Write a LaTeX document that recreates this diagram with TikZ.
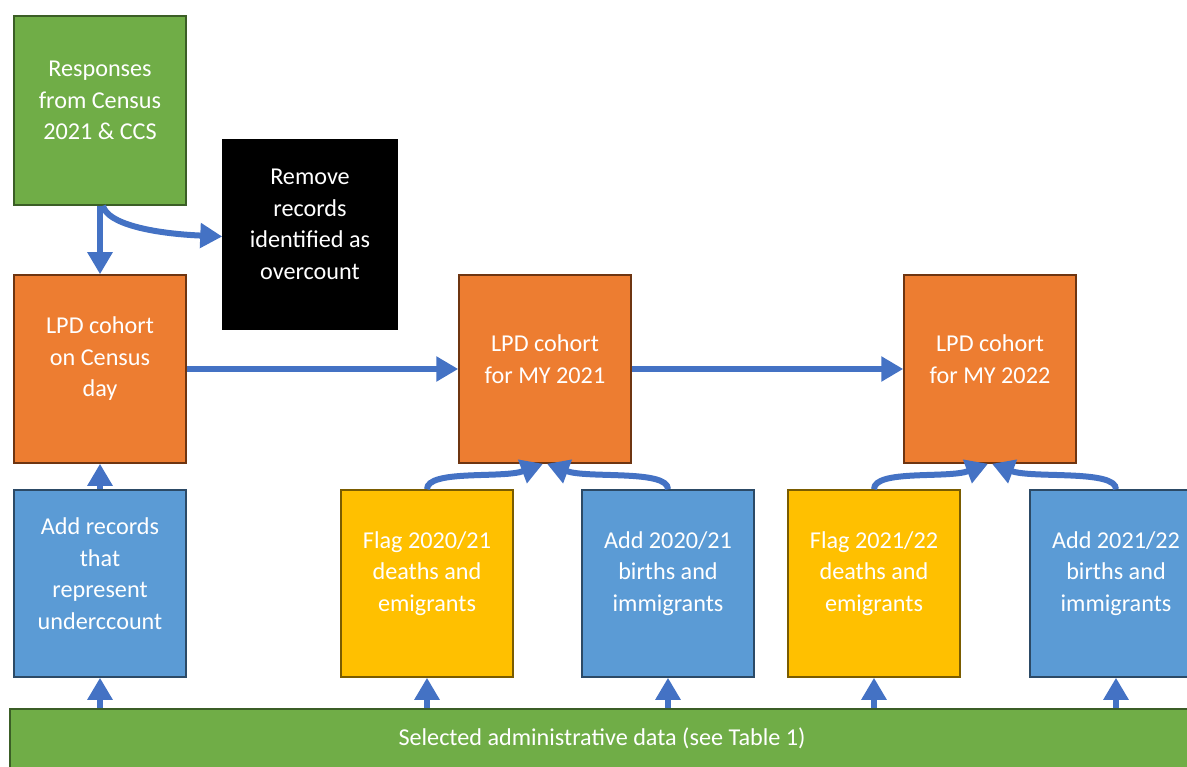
\documentclass[tikz,border=0pt]{standalone}
\usepackage{fontspec}
\setmainfont{Carlito}
\usetikzlibrary{arrows.meta}
\definecolor{gfill}{HTML}{70AD47}
\definecolor{gline}{HTML}{3B5E26}
\definecolor{ofill}{HTML}{ED7D31}
\definecolor{oline}{HTML}{6E3511}
\definecolor{bfill}{HTML}{5B9BD5}
\definecolor{bline}{HTML}{2C4A66}
\definecolor{yfill}{HTML}{FFC000}
\definecolor{yline}{HTML}{7A5C00}
\definecolor{arrc}{HTML}{4472C4}
\tikzset{
  box/.style={rectangle, inner sep=0pt, line width=1.5pt, minimum width=172pt, minimum height=188pt},
  gbox/.style={box, fill=gfill, draw=gline},
  obox/.style={box, fill=ofill, draw=oline},
  bbox/.style={box, fill=bfill, draw=bline},
  ybox/.style={box, fill=yfill, draw=yline},
  kbox/.style={box, fill=black, draw=black, minimum width=174pt, minimum height=189pt},
  txt/.style={text=white, align=center, inner sep=0pt, font=\fontsize{24.2}{31.5}\selectfont},
  arr/.style={draw=arrc, line width=6pt, -{Triangle[width=24pt,length=22pt]}},
}
\begin{document}
\begin{tikzpicture}[x=1pt,y=-1pt]
\useasboundingbox (0,0) rectangle (1187,767);
\clip (0,0) rectangle (1187,767);
% boxes
\node[gbox, minimum height=189pt] (resp) at (100,110.5) {};
\node[kbox] (blk) at (310,234.5) {};
\node[obox] (cen) at (100,369) {};
\node[obox] (my21) at (545,369) {};
\node[obox] (my22) at (990,369) {};
\node[bbox, minimum height=187pt] (addrec) at (100,583.5) {};
\node[ybox, minimum height=187pt] (flag21) at (427,583.5) {};
\node[bbox, minimum height=187pt] (add21) at (668,583.5) {};
\node[ybox, minimum height=187pt] (flag22) at (874,583.5) {};
\node[bbox, minimum height=187pt] (add22) at (1116,583.5) {};
\node[gbox, minimum width=1190pt, minimum height=90pt] (admin) at (605,754) {};
% texts
\node[txt] at ([yshift=10pt]resp.center) {Responses\\from Census\\2021 \& CCS};
\node[txt] at ([yshift=10pt]blk.center) {Remove\\records\\identified as\\overcount};
\node[txt] at ([yshift=10pt]cen.center) {LPD cohort\\on Census\\day};
\node[txt] at ([yshift=10pt]my21.center) {LPD cohort\\for MY 2021};
\node[txt] at ([yshift=10pt]my22.center) {LPD cohort\\for MY 2022};
\node[txt] at ([yshift=10pt]addrec.center) {Add records\\that\\represent\\underccount};
\node[txt] at ([yshift=10pt]flag21.center) {Flag 2020/21\\deaths and\\emigrants};
\node[txt] at ([yshift=10pt]add21.center) {Add 2020/21\\births and\\immigrants};
\node[txt] at ([yshift=10pt]flag22.center) {Flag 2021/22\\deaths and\\emigrants};
\node[txt] at ([yshift=10pt]add22.center) {Add 2021/22\\births and\\immigrants};
\node[txt] (admtxt) at (602,738) {Selected administrative data (see Table 1)};
% arrows
\draw[arr] (resp.south) -- (cen.north);
\draw[arr] ([xshift=3pt]resp.south) .. controls +(4,18) and +(-70,-3) .. ([yshift=-2pt]blk.west);
\draw[arr] (cen.east) -- (my21.west);
\draw[arr] (my21.east) -- (my22.west);
\draw[arr] (addrec.north) -- (cen.south);
\draw[arr] (flag21.north) .. controls +(0,-20) and +(-40,15) .. ([xshift=-2pt]my21.south);
\draw[arr] (add21.north) .. controls +(0,-20) and +(40,15) .. ([xshift=2pt]my21.south);
\draw[arr] (flag22.north) .. controls +(0,-20) and +(-40,15) .. ([xshift=-2pt]my22.south);
\draw[arr] (add22.north) .. controls +(0,-20) and +(40,15) .. ([xshift=2pt]my22.south);
\draw[arr] (admin.north -| addrec.south) -- (addrec.south);
\draw[arr] (admin.north -| flag21.south) -- (flag21.south);
\draw[arr] (admin.north -| add21.south) -- (add21.south);
\draw[arr] (admin.north -| flag22.south) -- (flag22.south);
\draw[arr] (admin.north -| add22.south) -- (add22.south);
\end{tikzpicture}
\end{document}
